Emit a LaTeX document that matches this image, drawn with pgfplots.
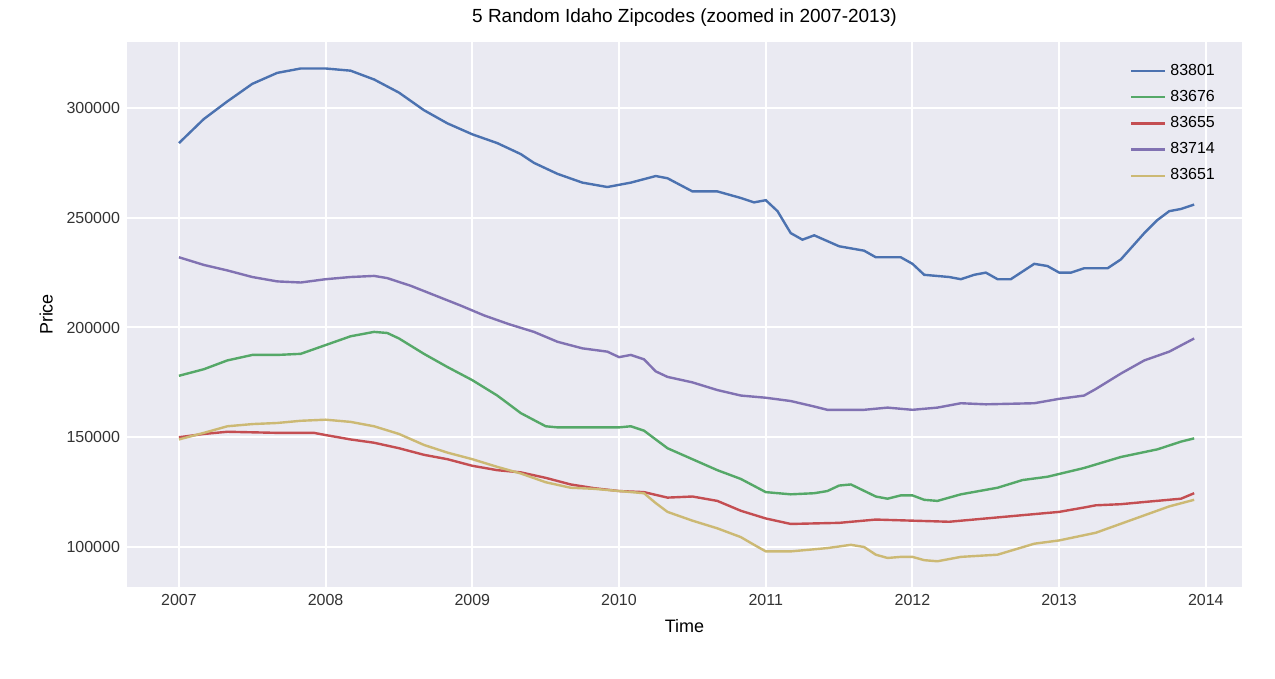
\documentclass[border=0pt]{standalone}
\usepackage{pgfplots}
\pgfplotsset{compat=1.18}
\usepackage{fontspec}
\setmainfont{Liberation Sans}
\definecolor{cb}{HTML}{4C72B0}
\definecolor{cg}{HTML}{55A868}
\definecolor{cr}{HTML}{C44E52}
\definecolor{cp}{HTML}{8172B2}
\definecolor{cy}{HTML}{CCB974}
\definecolor{bg}{HTML}{EAEAF2}
\begin{document}
\begin{tikzpicture}
\begin{axis}[
  scale only axis, width=557.5pt, height=272.5pt,
  xmin=2006.646, xmax=2014.246, ymin=81780, ymax=330070,
  axis background/.style={fill=bg}, axis line style={draw=none},
  grid=major, major grid style={white, line width=1pt},
  tick style={draw=none},
  xtick={2007,...,2014}, ytick={100000,150000,200000,250000,300000},
  scaled ticks=false,
  xticklabels={2007,2008,2009,2010,2011,2012,2013,2014},
  yticklabels={100000,150000,200000,250000,300000},
  tick label style={font=\fontsize{8}{9}\selectfont, color=black!80},
  label style={font=\fontsize{9}{10}\selectfont},
  xlabel={Time}, ylabel={Price},
  title={5 Random Idaho Zipcodes (zoomed in 2007-2013)},
  title style={font=\fontsize{9.5}{11}\selectfont, yshift=-2pt},
  legend style={draw=none, fill=none, at={(0.985,0.975)}, anchor=north east, font=\fontsize{8}{10}\selectfont, row sep=2pt},
  legend cell align=left,
  every axis plot/.append style={line width=1.2pt},
]
\addplot[cb] coordinates {(2007.0,284000)(2007.17,295000)(2007.33,303000)(2007.5,311000)(2007.67,316000)(2007.83,318000)(2008.0,318000)(2008.17,317000)(2008.33,313000)(2008.5,307000)(2008.67,299000)(2008.83,293000)(2009.0,288000)(2009.17,284000)(2009.33,279000)(2009.42,275000)(2009.58,270000)(2009.75,266000)(2009.92,264000)(2010.08,266000)(2010.25,269000)(2010.33,268000)(2010.5,262000)(2010.67,262000)(2010.83,259000)(2010.92,257000)(2011.0,258000)(2011.08,253000)(2011.17,243000)(2011.25,240000)(2011.33,242000)(2011.5,237000)(2011.67,235000)(2011.75,232000)(2011.92,232000)(2012.0,229000)(2012.08,224000)(2012.25,223000)(2012.33,222000)(2012.42,224000)(2012.5,225000)(2012.58,222000)(2012.67,222000)(2012.83,229000)(2012.92,228000)(2013.0,225000)(2013.08,225000)(2013.17,227000)(2013.33,227000)(2013.42,231000)(2013.58,243000)(2013.67,249000)(2013.75,253000)(2013.83,254000)(2013.92,256000)};
\addlegendentry{83801}
\addplot[cg] coordinates {(2007,178000)(2007.17,181000)(2007.33,185000)(2007.5,187500)(2007.67,187500)(2007.83,188000)(2008.0,192000)(2008.17,196000)(2008.33,198000)(2008.42,197500)(2008.5,195000)(2008.67,188000)(2008.83,182000)(2009.0,176000)(2009.17,169000)(2009.33,161000)(2009.5,155000)(2009.58,154500)(2009.83,154500)(2010.0,154500)(2010.08,155000)(2010.17,153000)(2010.33,145000)(2010.5,140000)(2010.67,135000)(2010.83,131000)(2011.0,125000)(2011.17,124000)(2011.33,124500)(2011.42,125500)(2011.5,128000)(2011.58,128500)(2011.75,123000)(2011.83,122000)(2011.92,123500)(2012.0,123500)(2012.08,121500)(2012.17,121000)(2012.33,124000)(2012.58,127000)(2012.75,130500)(2012.92,132000)(2013.17,136000)(2013.42,141000)(2013.67,144500)(2013.83,148000)(2013.92,149500)};
\addlegendentry{83676}
\addplot[cr] coordinates {(2007,150000)(2007.17,151500)(2007.33,152500)(2007.67,152000)(2007.92,152000)(2008.0,151000)(2008.17,149000)(2008.33,147500)(2008.5,145000)(2008.67,142000)(2008.83,140000)(2009.0,137000)(2009.17,135000)(2009.33,134000)(2009.5,131500)(2009.67,128500)(2009.83,126800)(2010.0,125500)(2010.17,125000)(2010.33,122500)(2010.5,123000)(2010.67,121000)(2010.83,116500)(2011.0,113000)(2011.17,110500)(2011.5,111000)(2011.75,112500)(2012.0,112000)(2012.25,111500)(2012.5,113000)(2012.75,114500)(2013.0,116000)(2013.17,118000)(2013.25,119000)(2013.42,119500)(2013.58,120500)(2013.83,122000)(2013.92,124500)};
\addlegendentry{83655}
\addplot[cp] coordinates {(2007,232000)(2007.17,228500)(2007.33,226000)(2007.5,223000)(2007.67,221000)(2007.83,220500)(2008.0,222000)(2008.17,223000)(2008.33,223500)(2008.42,222500)(2008.58,219000)(2008.75,214500)(2008.92,210000)(2009.08,205500)(2009.25,201500)(2009.42,198000)(2009.58,193500)(2009.75,190500)(2009.92,189000)(2010.0,186500)(2010.08,187500)(2010.17,185500)(2010.25,180000)(2010.33,177500)(2010.5,175000)(2010.67,171500)(2010.83,169000)(2011.0,168000)(2011.17,166500)(2011.33,164000)(2011.42,162500)(2011.67,162500)(2011.83,163500)(2012.0,162500)(2012.17,163500)(2012.33,165500)(2012.5,165000)(2012.83,165500)(2013.0,167500)(2013.17,169000)(2013.25,172000)(2013.42,179000)(2013.58,185000)(2013.75,189000)(2013.92,195000)};
\addlegendentry{83714}
\addplot[cy] coordinates {(2007,149000)(2007.17,152000)(2007.33,155000)(2007.5,156000)(2007.67,156500)(2007.83,157500)(2008.0,158000)(2008.17,157000)(2008.33,155000)(2008.5,151500)(2008.67,146500)(2008.83,143000)(2009.0,140000)(2009.17,136500)(2009.33,133500)(2009.5,129500)(2009.67,127000)(2009.83,126500)(2010.0,125500)(2010.17,124500)(2010.25,120000)(2010.33,116000)(2010.5,112000)(2010.67,108500)(2010.83,104500)(2010.92,101000)(2011.0,98000)(2011.17,98000)(2011.42,99500)(2011.58,101000)(2011.67,100000)(2011.75,96500)(2011.83,95000)(2011.92,95500)(2012.0,95500)(2012.08,94000)(2012.17,93500)(2012.33,95500)(2012.58,96500)(2012.83,101500)(2013.0,103000)(2013.25,106500)(2013.5,112500)(2013.75,118500)(2013.92,121500)};
\addlegendentry{83651}
\end{axis}
\path (current axis.south west) ++(-63.5pt,-46pt) coordinate (a);
\path (current axis.north east) ++(16.5pt,21pt) coordinate (b);
\path (a) rectangle (b);
\end{tikzpicture}
\end{document}
